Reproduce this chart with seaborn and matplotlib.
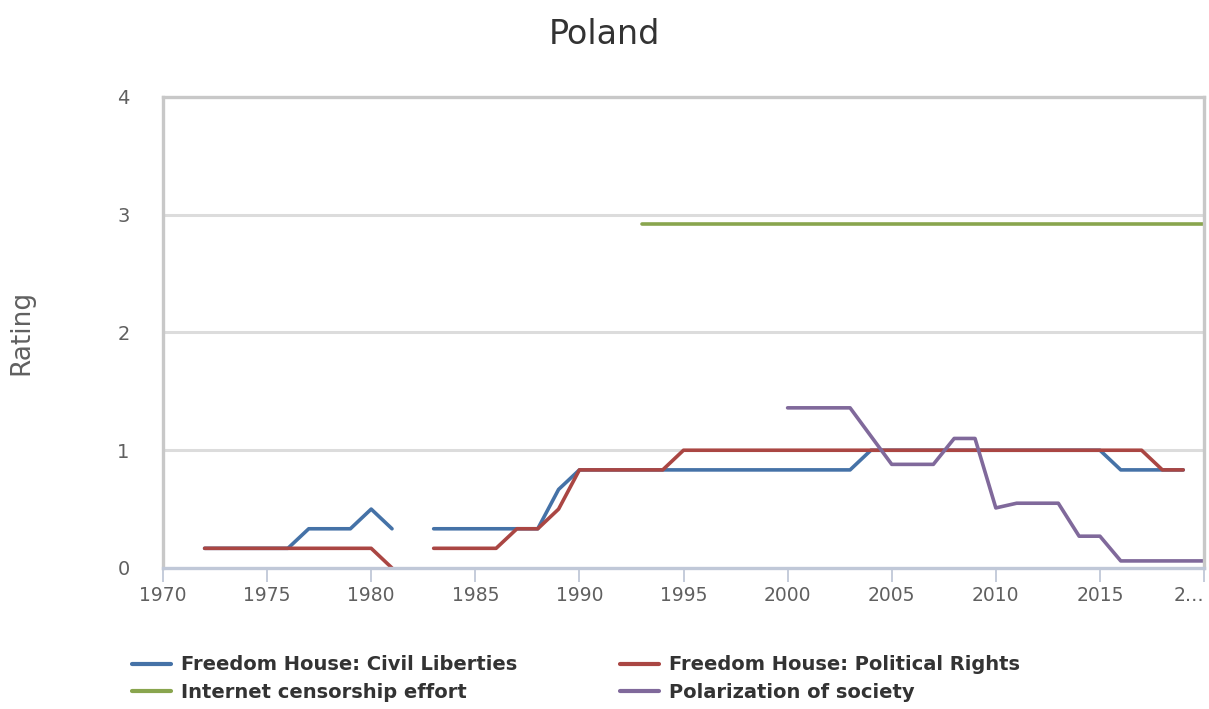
import numpy as np
import pandas as pd
import matplotlib
matplotlib.use("Agg")
import matplotlib.pyplot as plt
import seaborn as sns
from matplotlib.lines import Line2D

# ---- data ----
series_names = ["Freedom House: Civil Liberties", "Freedom House: Political Rights",
                "Internet censorship effort", "Polarization of society"]
colors = ["#4572A7", "#AA4643", "#89A54E", "#80699B"]

cl_years_a = list(range(1972, 1982))
cl_vals_a = [0.167, 0.167, 0.167, 0.167, 0.167, 0.333, 0.333, 0.333, 0.5, 0.333]
cl_years_b = list(range(1983, 2020))
cl_vals_b = ([0.333] * 6 + [0.667] + [0.833] * 14 + [1.0] * 12 + [0.833] * 4)

pr_years_a = list(range(1972, 1982))
pr_vals_a = [0.167] * 9 + [0.0]
pr_years_b = list(range(1983, 2020))
pr_vals_b = ([0.167] * 4 + [0.333, 0.333, 0.5] + [0.833] * 5 + [1.0] * 23 + [0.833, 0.833])

ic_years = list(range(1993, 2021))
ic_vals = [2.92] * len(ic_years)

po_years = list(range(2000, 2021))
po_vals = [1.36, 1.36, 1.36, 1.36, 1.12, 0.88, 0.88, 0.88, 1.10, 1.10,
           0.51, 0.55, 0.55, 0.55, 0.27, 0.27, 0.06, 0.06, 0.06, 0.06, 0.06]

x_ticks = [1970, 1975, 1980, 1985, 1990, 1995, 2000, 2005, 2010, 2015, 2020]
x_tick_labels = ["1970", "1975", "1980", "1985", "1990", "1995", "2000", "2005", "2010", "2015", "2…"]
y_ticks = [0, 1, 2, 3, 4]

# ---- long-form table ----
rows = []
def add(name, seg, years, vals):
    for y, v in zip(years, vals):
        rows.append({"series": name, "segment": f"{name}-{seg}", "year": y, "rating": v})

add(series_names[0], 0, cl_years_a, cl_vals_a)
add(series_names[0], 1, cl_years_b, cl_vals_b)
add(series_names[1], 0, pr_years_a, pr_vals_a)
add(series_names[1], 1, pr_years_b, pr_vals_b)
add(series_names[2], 0, ic_years, ic_vals)
add(series_names[3], 0, po_years, po_vals)
df = pd.DataFrame(rows)

sns.set_theme(style="white")
plt.rcParams["font.family"] = ["DejaVu Sans"]

fig = plt.figure(figsize=(12.09, 7.09), dpi=100)
ax = fig.add_axes([0.1348, 0.1989, 0.9959 - 0.1348, 0.8632 - 0.1989])

# grid lines
for yv in [1, 2, 3]:
    ax.axhline(yv, color="#DCDCDC", lw=2.2, zorder=0)

sns.lineplot(data=df, x="year", y="rating", hue="series", units="segment",
             estimator=None, hue_order=series_names, palette=colors,
             lw=2.6, ax=ax, legend=False, sort=True)

ax.set_xlim(1970, 2020)
ax.set_ylim(0, 4)
ax.set_xticks(x_ticks)
ax.set_xticklabels(x_tick_labels)
ax.set_yticks(y_ticks)
ax.set_xlabel("")
ax.set_ylabel("Rating", fontsize=19, color="#606060", labelpad=60)

for sp in ax.spines.values():
    sp.set_visible(True)
    sp.set_color("#C8C8C8")
    sp.set_linewidth(2.4)
ax.spines["bottom"].set_color("#C0C8D8")

ax.tick_params(axis="x", length=10, width=1.3, color="#C0C8D8", direction="out",
               labelsize=13.5, labelcolor="#606060", pad=3, bottom=True)
ax.tick_params(axis="y", length=0, labelsize=14, labelcolor="#606060", pad=24, left=True)
for lab in ax.get_xticklabels():
    if lab.get_text() == "2…":
        lab.set_ha("right")

fig.text(0.5, 1 - 35 / 709, "Poland", fontsize=24, color="#333333", ha="center", va="center")

# legend laid out row-wise: (CL, PR) on row 1, (IC, Polarization) on row 2
order = [0, 2, 1, 3]
handles = [Line2D([0], [0], color=colors[i], lw=3) for i in order]
labels = [series_names[i] for i in order]
leg = fig.legend(handles, labels, loc="lower left", bbox_to_anchor=(0.095, -0.015),
                 ncol=2, frameon=False, handlelength=2.0, handletextpad=0.5,
                 columnspacing=5.3, labelspacing=0.45,
                 prop={"weight": "bold", "size": 14})
for t in leg.get_texts():
    t.set_color("#333333")

fig.savefig("out.png", dpi=100, facecolor="white")
